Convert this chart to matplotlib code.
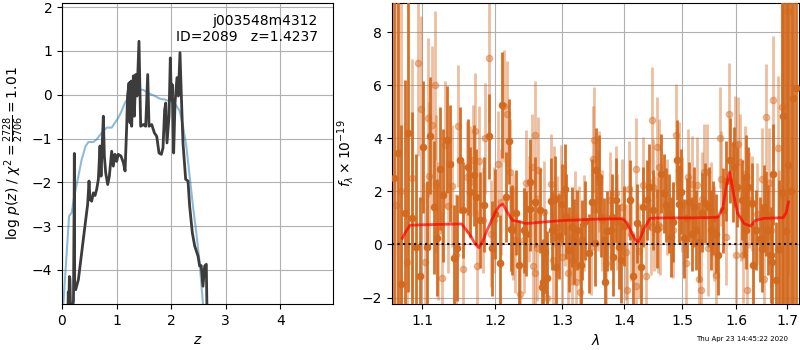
import matplotlib
matplotlib.use("Agg")
import matplotlib.pyplot as plt
from matplotlib.ticker import NullLocator

# p(z) curves (left panel)
z_prior = [0.0, 0.025, 0.086, 0.13, 0.178, 0.226, 0.30, 0.36, 0.434, 0.483,
           0.574, 0.635, 0.727, 0.819, 0.91, 0.97, 1.03, 1.093, 1.154, 1.215,
           1.276, 1.337, 1.429, 1.49, 1.551, 1.612, 1.704, 1.789, 1.88, 1.972,
           2.064, 2.155, 2.216, 2.277, 2.338, 2.399, 2.46, 2.521, 2.582, 2.61]
logp_prior = [-6.0, -4.78, -3.61, -2.77, -2.69, -2.31, -1.86, -1.48, -1.17, -1.08,
              -1.08, -1.02, -0.87, -0.75, -0.75, -0.64, -0.53, -0.37, -0.18, -0.07,
              0.02, 0.08, 0.12, 0.11, 0.06, 0.02, -0.03, -0.09, -0.11, -0.15,
              -0.19, -0.37, -0.72, -1.17, -1.86, -2.54, -3.15, -3.84, -4.78, -5.2]

z_fit = [0.10, 0.115, 0.125, 0.135, 0.145, 0.155, 0.17, 0.19, 0.21, 0.222,
         0.226, 0.232, 0.251, 0.30, 0.36, 0.42, 0.47, 0.495, 0.513, 0.544,
         0.574, 0.605, 0.635, 0.666, 0.696, 0.715, 0.739, 0.757, 0.776, 0.80,
         0.837, 0.867, 0.91, 0.94, 0.97, 1.002, 1.03, 1.08, 1.124, 1.155,
         1.185, 1.20, 1.228, 1.246, 1.264, 1.276, 1.307, 1.325, 1.35, 1.374,
         1.41, 1.441, 1.49, 1.533, 1.57, 1.594, 1.643, 1.692, 1.735, 1.777,
         1.82, 1.85, 1.88, 1.90, 1.923, 1.96, 1.984, 2.003, 2.02, 2.045,
         2.07, 2.106, 2.131, 2.161, 2.186, 2.216, 2.265, 2.308, 2.338, 2.387,
         2.43, 2.491, 2.521, 2.55, 2.582, 2.613, 2.643, 2.655, 2.67]
logp_fit = [-5.5, -4.5, -4.9, -4.15, -4.2, -4.85, -4.9, -4.9, -4.7, -2.5,
            -1.34, -4.4, -4.45, -4.22, -3.61, -3.0, -2.5, -1.97, -2.39, -2.43,
            -2.24, -2.3, -2.16, -1.93, -1.17, -1.86, -1.06, -0.49, -1.4, -1.78,
            -2.05, -1.86, -1.29, -1.63, -1.36, -1.52, -1.36, -1.4, -1.55, -1.74,
            -0.72, -0.03, 0.27, -0.64, 0.31, -0.72, 0.43, -0.49, 0.46, -0.03,
            1.22, -0.72, -0.68, -0.72, 0.46, -0.72, -0.68, -0.87, -0.95, -1.33,
            -1.36, -1.21, -0.34, -0.19, -1.1, -0.49, 0.84, -0.11, 0.23, -1.33,
            -0.19, 0.39, -0.03, 0.96, -0.03, -1.1, -1.93, -1.97, -2.54, -3.15,
            -3.45, -3.68, -3.91, -3.9, -4.37, -3.91, -3.87, -4.9, -5.5]

# spectrum, beam A (dark) and beam B (light)
a_wave = [1.063, 1.068, 1.073, 1.078, 1.082, 1.087, 1.092, 1.097, 1.101, 1.106,
          1.110, 1.115, 1.119, 1.124, 1.128, 1.133, 1.137, 1.142, 1.146, 1.151,
          1.155, 1.1614, 1.1651, 1.170, 1.1735, 1.1792, 1.184, 1.191, 1.1957, 1.2005,
          1.2068, 1.2102, 1.215, 1.2198, 1.2223, 1.2247, 1.230, 1.2345, 1.242, 1.2445,
          1.2507, 1.2517, 1.2592, 1.2653, 1.2683, 1.2703, 1.2734, 1.2770, 1.2821, 1.2847,
          1.2888, 1.2898, 1.295, 1.3002, 1.3044, 1.3054, 1.310, 1.3148, 1.319, 1.3238,
          1.3291, 1.3307, 1.336, 1.3426, 1.3468, 1.3522, 1.3532, 1.3581, 1.3608, 1.3663,
          1.3674, 1.372, 1.3773, 1.380, 1.3817, 1.3856, 1.3911, 1.3939, 1.400, 1.4096,
          1.4153, 1.4221, 1.4278, 1.4324, 1.4393, 1.4422, 1.448, 1.455, 1.4626, 1.4673,
          1.4715, 1.4767, 1.4796, 1.4838, 1.4915, 1.4945, 1.4975, 1.5035, 1.508, 1.5126,
          1.517, 1.5218, 1.5248, 1.5308, 1.536, 1.5419, 1.5481, 1.5525, 1.557, 1.5618,
          1.565, 1.5745, 1.580, 1.5886, 1.5937, 1.5956, 1.602, 1.6116, 1.6148, 1.6181,
          1.6194, 1.6233, 1.6298, 1.6324, 1.639, 1.6455, 1.6509, 1.6542, 1.6576, 1.6629,
          1.6676, 1.6696, 1.6723, 1.6777, 1.6845, 1.690, 1.6927, 1.6975, 1.7017, 1.7075,
          1.7121, 1.7177]
a_flux = [2.5, 3.46, -1.5, 1.2, 4.2, 1.0, -0.1, -1.2, 3.67, -0.1,
          4.1, 1.4, 0.26, 2.86, 1.85, 3.95, 3.04, -0.5, -0.15, 3.17,
          1.3, 2.92, 1.98, 2.6, 1.79, 0.91, 1.5, 4.08, -0.15, 1.16,
          -0.71, 5.24, 1.8, 3.88, 0.6, 0.54, 1.2, -0.78, 0.54, 0.41,
          2.36, 1.35, 1.6, 1.29, -1.59, -1.4, -0.28, -1.28, 1.64, 0.54,
          1.72, -0.84, 0.3, 1.54, 2.07, 1.04, -0.2, 0.66, 0.1, 0.54,
          -0.78, 0.16, 0.9, -0.34, 1.6, 0.04, 2.79, 2.54, 1.04, 0.16,
          -1.4, 0.5, 0.54, 1.04, -0.46, 1.67, -0.09, -0.59, 0.7, 1.67,
          -1.19, 0.79, -0.84, 1.41, 1.67, 2.17, 1.3, 0.6, 2.67, 1.92,
          1.48, 1.17, 0.29, 0.85, 3.17, 1.51, 1.98, 0.23, 1.0, 1.6,
          0.4, 1.41, 0.54, 0.1, 1.2, 1.57, 1.41, 0.54, 1.0, 0.41,
          -0.4, 1.29, 2.4, 3.17, 2.36, 2.92, 2.17, 1.67, 1.04, 0.56,
          2.54, 2.17, 1.57, -0.78, 0.54, 0.2, -0.19, 1.41, 1.16, 0.54,
          -0.4, -0.65, 2.64, -1.34, -0.19, 1.98, 4.82, 0.5, 3.0, 2.0,
          5.53, 5.9]
a_err = [9, 8, 6, 5, 6, 4, 3.5, 3, 2.5, 2.5,
         2.2, 2.5, 2.2, 2.3, 2.5, 2.0, 2.2, 2.0, 2.0, 2.0,
         1.8, 1.8, 1.7, 1.9, 1.8, 1.8, 1.8, 1.6, 1.8, 1.7,
         1.8, 2.0, 1.7, 1.6, 1.6, 1.7, 1.6, 1.7, 1.6, 1.6,
         1.6, 1.6, 1.7, 1.6, 1.7, 1.6, 1.6, 1.8, 1.6, 1.5,
         1.6, 1.6, 1.6, 1.5, 1.7, 1.6, 1.6, 1.5, 1.6, 1.5,
         1.6, 1.5, 1.5, 1.5, 1.6, 1.6, 1.6, 1.6, 1.5, 1.6,
         1.7, 1.5, 1.5, 1.6, 1.5, 1.6, 1.6, 1.6, 1.5, 1.5,
         1.6, 1.5, 1.6, 1.5, 1.5, 1.6, 1.5, 1.5, 1.5, 1.5,
         1.4, 1.5, 1.5, 1.5, 1.5, 1.5, 1.6, 1.5, 1.5, 1.5,
         1.4, 1.5, 1.5, 1.5, 1.5, 1.5, 1.5, 1.5, 1.4, 1.5,
         1.5, 1.6, 1.5, 1.6, 1.5, 1.5, 1.5, 1.5, 1.5, 1.5,
         1.6, 1.5, 1.5, 1.6, 1.5, 1.6, 1.6, 1.6, 1.6, 1.7,
         1.8, 1.8, 1.9, 2.2, 2.6, 8, 10, 12, 12, 12,
         12, 12]

b_wave = [1.066, 1.072, 1.0803, 1.086, 1.0946, 1.099, 1.103, 1.1078, 1.1087, 1.1123,
          1.1168, 1.1177, 1.1215, 1.1257, 1.1302, 1.1348, 1.140, 1.1448, 1.1485, 1.1549,
          1.1604, 1.1651, 1.1688, 1.1721, 1.1745, 1.1768, 1.1829, 1.1862, 1.191, 1.1934,
          1.1982, 1.2037, 1.208, 1.2126, 1.2164, 1.2213, 1.2261, 1.2295, 1.236, 1.2419,
          1.2449, 1.2494, 1.2542, 1.2552, 1.2582, 1.2592, 1.2617, 1.2632, 1.2719, 1.277,
          1.2821, 1.2862, 1.2872, 1.2913, 1.2975, 1.3002, 1.305, 1.3096, 1.3148, 1.3159,
          1.3201, 1.3212, 1.3265, 1.3275, 1.3345, 1.3452, 1.3479, 1.3506, 1.356, 1.3581,
          1.3636, 1.3691, 1.3762, 1.3856, 1.3884, 1.3968, 1.4024, 1.4052, 1.4081, 1.4108,
          1.4194, 1.4204, 1.4251, 1.4308, 1.4375, 1.4452, 1.4464, 1.4481, 1.451, 1.4557,
          1.4567, 1.4597, 1.4614, 1.4737, 1.4838, 1.4886, 1.4945, 1.5005, 1.5064, 1.5114,
          1.5176, 1.5263, 1.53, 1.5339, 1.5358, 1.5402, 1.5446, 1.5465, 1.553, 1.5591,
          1.562, 1.5697, 1.5716, 1.5811, 1.5856, 1.597, 1.5989, 1.604, 1.6065, 1.6084,
          1.613, 1.6168, 1.62, 1.6246, 1.6311, 1.6408, 1.6495, 1.6542, 1.6576, 1.664,
          1.6676, 1.6723, 1.6812, 1.6845, 1.69, 1.6948, 1.7017]
b_flux = [1.5, 2.0, -0.68, 2.5, 6.84, 5.1, -0.68, 4.77, 2.58, 4.49,
          5.99, 2.27, 0.5, -1.25, 3.76, 1.44, 2.2, -0.4, 4.45, -0.94,
          2.54, 2.36, 3.17, 4.27, -0.8, 3.13, 0.91, 4.0, 7.03, 0.41,
          0.91, 3.02, 1.6, 5.21, 4.92, 2.73, 0.66, 0.16, -1.87, 0.16,
          2.32, 1.35, 2.92, -0.8, 4.14, -1.09, -0.15, 2.8, 1.23, -2.03,
          2.27, -0.59, 1.79, 0.66, 1.85, -0.46, 1.1, -1.09, 0.29, -0.59,
          0.98, -1.4, 0.41, -1.78, 0.8, -0.09, 3.23, 3.92, 1.67, 2.36,
          0.91, -0.71, 1.67, 1.92, 0.85, 1.41, -0.28, -1.72, 2.1, 0.41,
          -1.57, 2.86, -0.23, 2.23, -1.2, 0.66, 4.67, 2.17, 0.79, 3.67,
          0.73, 2.92, 0.66, 1.41, 0.54, 4.14, 2.8, 1.5, -0.71, 2.54,
          2.29, 2.23, -1.32, -1.72, 1.7, 2.73, 2.73, -0.15, 1.3, 0.41,
          -1.15, 4.02, 2.48, 0.29, 4.92, 3.8, -0.4, 3.77, 3.1, 1.16,
          -0.4, 2.67, -1.72, 1.67, 1.54, 1.16, 2.48, -1.32, 4.8, 2.3,
          0.54, 5.45, 3.63, -0.2, 5.18, 1.77, 8.8]
b_err = [10, 9, 5, 4.5, 3.5, 3.5, 3, 3, 2.8, 3,
         2.8, 2.6, 2.6, 2.5, 2.4, 2.5, 2.3, 2.3, 2.3, 2.3,
         2.1, 2.1, 2.1, 2.2, 2.1, 2.1, 2.0, 2.1, 2.4, 2.0,
         2.0, 2.0, 2.0, 2.1, 2.0, 2.0, 2.0, 2.0, 2.0, 2.0,
         2.0, 2.0, 2.0, 2.0, 2.0, 2.0, 2.0, 2.0, 1.9, 1.9,
         1.9, 1.9, 1.9, 1.9, 1.9, 1.9, 1.9, 1.8, 1.8, 1.8,
         1.8, 1.9, 1.8, 1.9, 1.8, 1.8, 2.0, 2.0, 1.9, 1.9,
         1.9, 1.9, 1.8, 1.8, 1.8, 1.8, 1.8, 1.8, 1.8, 1.8,
         1.8, 1.9, 1.8, 1.8, 1.8, 1.8, 2.0, 1.8, 1.8, 1.9,
         1.8, 1.8, 1.8, 1.8, 1.8, 1.9, 1.8, 1.8, 1.8, 1.8,
         1.8, 1.8, 1.8, 1.8, 1.8, 1.8, 1.8, 1.8, 1.8, 1.8,
         1.8, 1.9, 1.8, 1.8, 1.9, 1.8, 1.8, 1.8, 1.8, 1.8,
         1.8, 1.8, 1.8, 1.8, 1.8, 1.9, 1.9, 2.0, 2.0, 2.1,
         2.2, 2.4, 2.7, 3, 5, 8, 10]

# best-fit model
model_wave = [1.074, 1.079, 1.084, 1.10, 1.13, 1.153, 1.159, 1.166, 1.172, 1.177,
              1.182, 1.188, 1.194, 1.201, 1.206, 1.211, 1.2186, 1.225, 1.236, 1.2446,
              1.27, 1.30, 1.35, 1.397, 1.405, 1.412, 1.418, 1.4235, 1.428, 1.4322,
              1.4434, 1.46, 1.52, 1.565, 1.5747, 1.5808, 1.5875, 1.5936, 1.6027, 1.6149,
              1.6277, 1.6373, 1.6537, 1.68, 1.6925, 1.6985, 1.703]
model_flux = [0.23, 0.5, 0.72, 0.74, 0.76, 0.77, 0.56, 0.3, 0.0, -0.12,
              0.1, 0.5, 0.85, 1.25, 1.45, 1.52, 1.17, 0.91, 0.85, 0.79,
              0.84, 0.9, 0.95, 0.97, 0.8, 0.45, 0.2, 0.08, 0.3, 0.54,
              0.98, 1.0, 1.0, 1.02, 1.35, 2.17, 2.73, 2.04, 1.17, 0.79,
              0.69, 0.91, 0.98, 1.0, 1.01, 1.2, 1.6]

wave_ticks = [1.1, 1.2, 1.3, 1.4, 1.5, 1.6, 1.7]

fig = plt.figure(figsize=(8, 3.5), dpi=100)
ax1 = fig.add_axes([0.0775, 0.131, 0.3385, 0.86])
ax2 = fig.add_axes([0.49, 0.131, 0.509, 0.86])

# left: p(z)
ax1.plot(z_prior, logp_prior, color="tab:blue", alpha=0.5, lw=1.5)
ax1.plot(z_fit, logp_fit, color="#3c3c3c", lw=2)
ax1.set_xlim(0, 4.96)
ax1.set_ylim(-4.78, 2.09)
ax1.set_xticks([0, 1, 2, 3, 4])
ax1.grid()
ax1.set_xlabel(r"$z$")
ax1.set_ylabel(r"log $p(z)$ / $\chi^2=\frac{2728}{2706}=1.01$")
ax1.text(0.945, 0.965, "j003548m4312\nID=2089   z=1.4237", ha="right", va="top",
         transform=ax1.transAxes, fontsize=10)

# right: spectrum
ax2.errorbar(b_wave, b_flux, yerr=b_err, marker="o", ms=4.5, linestyle="None",
             color="#d8702a", alpha=0.45, elinewidth=2, zorder=2)
ax2.errorbar(a_wave, a_flux, yerr=a_err, marker="o", ms=4.5, linestyle="None",
             color="#d2691e", alpha=0.95, elinewidth=2, zorder=3)
ax2.plot(model_wave, model_flux, color="red", alpha=0.7, lw=2, zorder=5)
ax2.axhline(0, color="k", linestyle=":", lw=1.5, zorder=4)
ax2.set_xscale("log")
ax2.set_xlim(1.061, 1.725)
ax2.set_ylim(-2.25, 9.09)
ax2.set_xticks(wave_ticks)
ax2.set_xticklabels([str(t) for t in wave_ticks])
ax2.xaxis.set_minor_locator(NullLocator())
ax2.set_yticks([-2, 0, 2, 4, 6, 8])
ax2.grid()
ax2.set_xlabel(r"$\lambda$")
ax2.set_ylabel(r"$f_\lambda\times10^{-19}$")

fig.text(0.985, 0.022, "Thu Apr 23 14:45:22 2020", ha="right", va="bottom", fontsize=5)

fig.savefig("out.png", dpi=100)
